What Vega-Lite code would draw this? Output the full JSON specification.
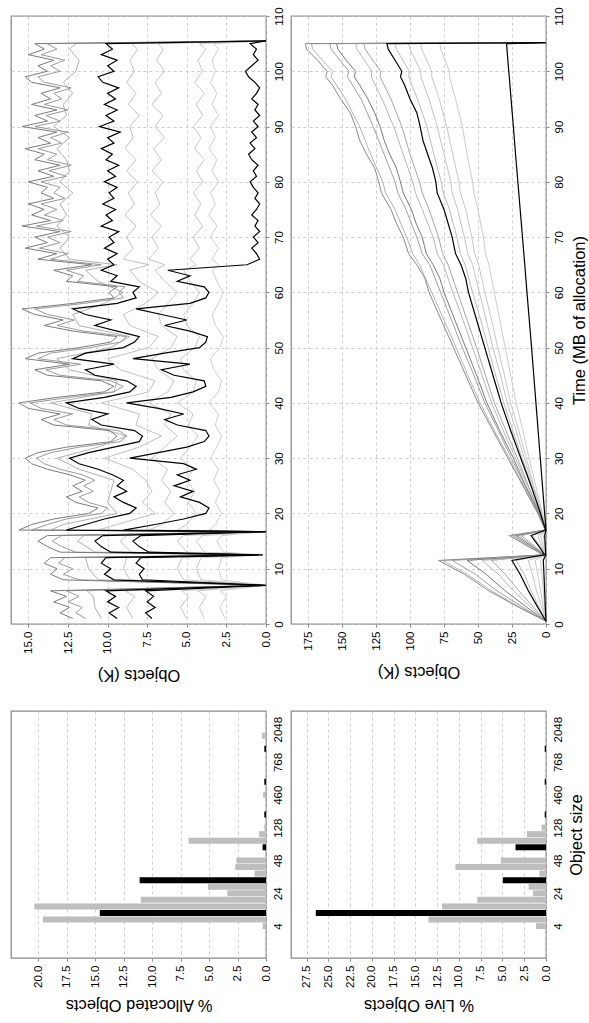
{
"$schema": "https://vega.github.io/schema/vega-lite/v6.json",
"padding": {"left": 10, "top": 6, "right": 2, "bottom": 2},
"background": "white",
"columns": 2,
"bounds": "flush",
"spacing": {"row": 87, "column": 25},
"config": {
 "font": "Liberation Sans",
 "view": {"stroke": "#8c8c8c", "strokeWidth": 1.3},
 "axis": {"labelFont": "Liberation Sans", "labelFontSize": 11.5, "labelColor": "#000", "titleFont": "Liberation Sans", "titleFontSize": 16.5, "titleFontWeight": "normal", "titleColor": "#000", "domain": false, "tickColor": "#888888", "tickSize": 3, "gridColor": "#c4c4c4", "gridDash": [3, 3], "gridWidth": 0.8}
},
"concat": [
  {"width": 255, "height": 608,
   "encoding": {
    "x": {"field": "v", "type": "quantitative", "scale": {"domain": [0, 16.1], "reverse": true, "nice": false, "zero": false}, "axis": {"orient": "bottom", "values": [0, 2.5, 5, 7.5, 10, 12.5, 15], "format": ".1f", "labelAngle": 270, "labelAlign": "right", "labelBaseline": "middle", "labelPadding": 4, "title": "Objects (K)", "titleAngle": 180, "titleBaseline": "bottom", "titlePadding": 13}},
    "y": {"field": "t", "type": "quantitative", "scale": {"domain": [0, 110], "nice": false, "zero": false}, "axis": {"orient": "right", "values": [0, 10, 20, 30, 40, 50, 60, 70, 80, 90, 100, 110], "labelAngle": 270, "labelAlign": "center", "labelBaseline": "top", "labelPadding": 4, "title": null}},
    "order": {"field": "t", "type": "quantitative"}
   },
   "layer": [
    {"data": {"name": "l1I"}, "mark": {"type": "line", "color": "#cfcfcf", "strokeWidth": 1}},
    {"data": {"name": "l1H"}, "mark": {"type": "line", "color": "#c8c8c8", "strokeWidth": 1}},
    {"data": {"name": "l1G"}, "mark": {"type": "line", "color": "#c6c6c6", "strokeWidth": 1}},
    {"data": {"name": "l1F"}, "mark": {"type": "line", "color": "#c2c2c2", "strokeWidth": 1}},
    {"data": {"name": "l1C"}, "mark": {"type": "line", "color": "#b0b0b0", "strokeWidth": 1}},
    {"data": {"name": "l1B"}, "mark": {"type": "line", "color": "#9a9a9a", "strokeWidth": 1}},
    {"data": {"name": "l1A"}, "mark": {"type": "line", "color": "#7c7c7c", "strokeWidth": 1}},
    {"data": {"name": "l1E"}, "mark": {"type": "line", "color": "#000000", "strokeWidth": 1.2}},
    {"data": {"name": "l1D"}, "mark": {"type": "line", "color": "#000000", "strokeWidth": 1.2}}
   ]},
  {"width": 255, "height": 608,
   "encoding": {
    "x": {"field": "v", "type": "quantitative", "scale": {"domain": [0, 187.5], "reverse": true, "nice": false, "zero": false}, "axis": {"orient": "bottom", "values": [0, 25, 50, 75, 100, 125, 150, 175], "labelAngle": 270, "labelAlign": "right", "labelBaseline": "middle", "labelPadding": 4, "title": "Objects (K)", "titleAngle": 180, "titleBaseline": "bottom", "titlePadding": 13}},
    "y": {"field": "t", "type": "quantitative", "scale": {"domain": [0, 110], "nice": false, "zero": false}, "axis": {"orient": "right", "values": [0, 10, 20, 30, 40, 50, 60, 70, 80, 90, 100, 110], "labelAngle": 270, "labelAlign": "center", "labelBaseline": "top", "labelPadding": 4, "title": "Time (MB of allocation)", "titleAngle": 270, "titleBaseline": "top", "titlePadding": 7}},
    "order": {"field": "t", "type": "quantitative"}
   },
   "layer": [
    {"data": {"name": "l2j"}, "mark": {"type": "line", "color": "#cccccc", "strokeWidth": 1}},
    {"data": {"name": "l2i"}, "mark": {"type": "line", "color": "#c8c8c8", "strokeWidth": 1}},
    {"data": {"name": "l2h"}, "mark": {"type": "line", "color": "#c4c4c4", "strokeWidth": 1}},
    {"data": {"name": "l2g"}, "mark": {"type": "line", "color": "#bdbdbd", "strokeWidth": 1}},
    {"data": {"name": "l2m"}, "mark": {"type": "line", "color": "#b8b8b8", "strokeWidth": 1}},
    {"data": {"name": "l2f"}, "mark": {"type": "line", "color": "#a6a6a6", "strokeWidth": 1}},
    {"data": {"name": "l2d"}, "mark": {"type": "line", "color": "#a0a0a0", "strokeWidth": 1}},
    {"data": {"name": "l2e"}, "mark": {"type": "line", "color": "#7a7a7a", "strokeWidth": 1}},
    {"data": {"name": "l2c"}, "mark": {"type": "line", "color": "#b5b5b5", "strokeWidth": 1}},
    {"data": {"name": "l2b"}, "mark": {"type": "line", "color": "#8a8a8a", "strokeWidth": 1}},
    {"data": {"name": "l2a"}, "mark": {"type": "line", "color": "#000000", "strokeWidth": 1.2}},
    {"data": {"name": "l2k"}, "mark": {"type": "line", "color": "#000000", "strokeWidth": 1.2}}
   ]},
  {"width": 255, "height": 247,
   "data": {"name": "alloc"},
   "mark": {"type": "bar", "orient": "horizontal", "height": 6},
   "encoding": {
    "y": {"field": "slot", "type": "quantitative", "scale": {"domain": [-4.1, 32], "nice": false, "zero": false}, "axis": {"orient": "right", "values": [0, 5, 10, 15, 20, 25, 30], "labelExpr": "datum.value==0?'4':datum.value==5?'24':datum.value==10?'48':datum.value==15?'128':datum.value==20?'460':datum.value==25?'768':'2048'", "labelAngle": 270, "labelAlign": "center", "labelBaseline": "top", "labelPadding": 6, "ticks": false, "grid": false, "title": null}},
    "x": {"field": "pct", "type": "quantitative", "stack": null, "scale": {"domain": [0, 22.4], "reverse": true, "nice": false}, "axis": {"orient": "bottom", "values": [0, 2.5, 5, 7.5, 10, 12.5, 15, 17.5, 20], "format": ".1f", "labelAngle": 270, "labelAlign": "right", "labelBaseline": "middle", "labelPadding": 4, "title": "% Allocated Objects", "titleAngle": 180, "titleBaseline": "bottom", "titlePadding": 9}},
    "color": {"field": "k", "type": "nominal", "scale": {"domain": ["g", "k"], "range": ["#bebebe", "#000000"]}, "legend": null}
   }},
  {"width": 255, "height": 247,
   "data": {"name": "live"},
   "mark": {"type": "bar", "orient": "horizontal", "height": 6},
   "encoding": {
    "y": {"field": "slot", "type": "quantitative", "scale": {"domain": [-4.1, 32], "nice": false, "zero": false}, "axis": {"orient": "right", "values": [0, 5, 10, 15, 20, 25, 30], "labelExpr": "datum.value==0?'4':datum.value==5?'24':datum.value==10?'48':datum.value==15?'128':datum.value==20?'460':datum.value==25?'768':'2048'", "labelAngle": 270, "labelAlign": "center", "labelBaseline": "top", "labelPadding": 6, "ticks": false, "grid": false, "title": "Object size", "titleAngle": 270, "titleBaseline": "top", "titlePadding": 5}},
    "x": {"field": "pct", "type": "quantitative", "stack": null, "scale": {"domain": [0, 29.3], "reverse": true, "nice": false}, "axis": {"orient": "bottom", "values": [0, 2.5, 5, 7.5, 10, 12.5, 15, 17.5, 20, 22.5, 25, 27.5], "format": ".1f", "labelAngle": 270, "labelAlign": "right", "labelBaseline": "middle", "labelPadding": 4, "title": "% Live Objects", "titleAngle": 180, "titleBaseline": "bottom", "titlePadding": 9}},
    "color": {"field": "k", "type": "nominal", "scale": {"domain": ["g", "k"], "range": ["#bebebe", "#000000"]}, "legend": null}
   }}
],
"datasets": {
 "alloc": [{"slot":0,"pct":0.3,"k":"g"},{"slot":1,"pct":19.6,"k":"g"},{"slot":2,"pct":14.6,"k":"k"},{"slot":3,"pct":20.35,"k":"g"},{"slot":4,"pct":11.0,"k":"g"},{"slot":5,"pct":3.4,"k":"g"},{"slot":6,"pct":5.1,"k":"g"},{"slot":7,"pct":11.1,"k":"k"},{"slot":8,"pct":1.0,"k":"g"},{"slot":9,"pct":2.7,"k":"g"},{"slot":10,"pct":2.6,"k":"g"},{"slot":12,"pct":0.3,"k":"k"},{"slot":13,"pct":6.8,"k":"g"},{"slot":14,"pct":0.6,"k":"g"},{"slot":15,"pct":0.15,"k":"g"},{"slot":17,"pct":0.15,"k":"k"},{"slot":20,"pct":0.25,"k":"g"},{"slot":22,"pct":0.15,"k":"k"},{"slot":27,"pct":0.15,"k":"k"},{"slot":29,"pct":0.35,"k":"g"}],
 "live": [{"slot":0,"pct":1.15,"k":"g"},{"slot":1,"pct":13.5,"k":"g"},{"slot":2,"pct":26.45,"k":"k"},{"slot":3,"pct":11.95,"k":"g"},{"slot":4,"pct":7.9,"k":"g"},{"slot":5,"pct":1.5,"k":"g"},{"slot":6,"pct":2.0,"k":"g"},{"slot":7,"pct":4.96,"k":"k"},{"slot":8,"pct":0.76,"k":"g"},{"slot":9,"pct":10.4,"k":"g"},{"slot":10,"pct":5.2,"k":"g"},{"slot":12,"pct":3.5,"k":"k"},{"slot":13,"pct":7.9,"k":"g"},{"slot":14,"pct":2.2,"k":"g"},{"slot":15,"pct":0.5,"k":"g"},{"slot":17,"pct":0.15,"k":"k"},{"slot":22,"pct":0.15,"k":"k"},{"slot":27,"pct":0.15,"k":"k"}],
 "l1I": [{"t":1,"v":2.6},{"t":3,"v":2.9},{"t":5,"v":2.5},{"t":6,"v":2.9},{"t":7,"v":0},{"t":8,"v":2.8},{"t":10,"v":3.0},{"t":12,"v":2.8},{"t":12.5,"v":0.2},{"t":13,"v":2.7},{"t":15,"v":3.1},{"t":16,"v":2.8},{"t":16.7,"v":0},{"t":17,"v":3.6},{"t":18,"v":3.2},{"t":20,"v":2.8},{"t":22,"v":3.2},{"t":24,"v":2.9},{"t":26,"v":3.3},{"t":28,"v":3.0},{"t":30,"v":3.5},{"t":32,"v":3.1},{"t":34,"v":2.8},{"t":36,"v":3.2},{"t":38,"v":3.0},{"t":40,"v":3.6},{"t":42,"v":3.0},{"t":44,"v":2.8},{"t":46,"v":3.3},{"t":48,"v":3.5},{"t":50,"v":2.9},{"t":52,"v":2.7},{"t":54,"v":3.2},{"t":56,"v":3.4},{"t":58,"v":3.0},{"t":60,"v":2.7},{"t":62,"v":3.1},{"t":64,"v":3.4},{"t":65,"v":3.0},{"t":66,"v":3.4},{"t":68,"v":3.0},{"t":70,"v":3.5},{"t":72,"v":3.1},{"t":74,"v":3.6},{"t":76,"v":3.2},{"t":78,"v":3.5},{"t":80,"v":3.0},{"t":82,"v":3.4},{"t":84,"v":3.1},{"t":86,"v":3.6},{"t":88,"v":3.2},{"t":90,"v":3.5},{"t":92,"v":3.0},{"t":94,"v":3.4},{"t":96,"v":3.1},{"t":98,"v":3.5},{"t":100,"v":3.2},{"t":102,"v":3.4},{"t":104,"v":3.0},{"t":105,"v":3.3},{"t":105.5,"v":0}],
 "l1H": [{"t":1,"v":3.9},{"t":3,"v":4.2},{"t":5,"v":3.8},{"t":6,"v":4.3},{"t":7,"v":0},{"t":8,"v":4.1},{"t":10,"v":4.4},{"t":12,"v":4.1},{"t":12.5,"v":0.3},{"t":13,"v":3.9},{"t":15,"v":4.4},{"t":16,"v":4.0},{"t":16.7,"v":0},{"t":17,"v":5.6},{"t":18,"v":5.0},{"t":20,"v":4.4},{"t":22,"v":4.9},{"t":24,"v":4.5},{"t":26,"v":5.0},{"t":28,"v":4.6},{"t":30,"v":5.4},{"t":32,"v":4.8},{"t":34,"v":4.3},{"t":36,"v":4.9},{"t":38,"v":4.6},{"t":40,"v":5.6},{"t":42,"v":4.6},{"t":44,"v":4.4},{"t":46,"v":5.2},{"t":48,"v":5.4},{"t":50,"v":4.5},{"t":52,"v":4.2},{"t":54,"v":5.0},{"t":56,"v":5.2},{"t":58,"v":4.6},{"t":60,"v":4.2},{"t":62,"v":4.8},{"t":64,"v":5.2},{"t":65,"v":4.4},{"t":66,"v":4.8},{"t":68,"v":4.2},{"t":70,"v":4.6},{"t":72,"v":4.0},{"t":74,"v":4.5},{"t":76,"v":4.1},{"t":78,"v":4.6},{"t":80,"v":4.0},{"t":82,"v":4.4},{"t":84,"v":3.9},{"t":86,"v":4.5},{"t":88,"v":4.1},{"t":90,"v":4.6},{"t":92,"v":4.0},{"t":94,"v":4.4},{"t":96,"v":3.9},{"t":98,"v":4.5},{"t":100,"v":4.0},{"t":102,"v":4.3},{"t":104,"v":3.8},{"t":105,"v":4.2},{"t":105.5,"v":0}],
 "l1G": [{"t":1,"v":5.0},{"t":3,"v":5.4},{"t":5,"v":4.9},{"t":6,"v":5.3},{"t":7,"v":0.1},{"t":8,"v":5.2},{"t":10,"v":5.6},{"t":12,"v":5.3},{"t":12.5,"v":0.4},{"t":13,"v":5.0},{"t":15,"v":5.6},{"t":16,"v":5.2},{"t":16.7,"v":0},{"t":17,"v":7.4},{"t":18,"v":6.6},{"t":20,"v":5.8},{"t":22,"v":6.4},{"t":24,"v":6.0},{"t":26,"v":6.6},{"t":28,"v":6.2},{"t":30,"v":7.2},{"t":32,"v":6.4},{"t":34,"v":5.6},{"t":36,"v":6.4},{"t":38,"v":6.0},{"t":40,"v":7.4},{"t":42,"v":6.2},{"t":44,"v":5.8},{"t":46,"v":6.8},{"t":48,"v":7.2},{"t":50,"v":6.0},{"t":52,"v":5.6},{"t":54,"v":6.6},{"t":56,"v":6.8},{"t":58,"v":6.2},{"t":60,"v":5.6},{"t":62,"v":6.4},{"t":64,"v":7.0},{"t":65,"v":6.4},{"t":66,"v":7.4},{"t":68,"v":6.8},{"t":70,"v":7.2},{"t":72,"v":6.6},{"t":74,"v":7.3},{"t":76,"v":6.7},{"t":78,"v":7.0},{"t":80,"v":6.5},{"t":82,"v":7.2},{"t":84,"v":6.6},{"t":86,"v":7.1},{"t":88,"v":6.4},{"t":90,"v":7.0},{"t":92,"v":6.5},{"t":94,"v":7.2},{"t":96,"v":6.6},{"t":98,"v":7.0},{"t":100,"v":6.4},{"t":102,"v":6.9},{"t":104,"v":6.5},{"t":105,"v":6.8},{"t":105.5,"v":0}],
 "l1F": [{"t":1,"v":8.4},{"t":3,"v":8.8},{"t":5,"v":8.3},{"t":6,"v":8.9},{"t":7,"v":0.1},{"t":8,"v":8.6},{"t":10,"v":9.0},{"t":12,"v":8.8},{"t":12.5,"v":0.6},{"t":13,"v":8.5},{"t":15,"v":9.2},{"t":16,"v":8.8},{"t":16.7,"v":0},{"t":17,"v":10.6},{"t":18,"v":9.4},{"t":20,"v":7.0},{"t":22,"v":7.8},{"t":24,"v":7.2},{"t":26,"v":7.6},{"t":28,"v":8.4},{"t":30,"v":10.2},{"t":32,"v":8.0},{"t":34,"v":6.6},{"t":36,"v":8.2},{"t":38,"v":8.0},{"t":40,"v":10.4},{"t":42,"v":7.4},{"t":44,"v":7.0},{"t":46,"v":9.2},{"t":48,"v":10.0},{"t":50,"v":7.4},{"t":52,"v":6.8},{"t":54,"v":8.6},{"t":56,"v":9.0},{"t":58,"v":7.6},{"t":60,"v":6.8},{"t":62,"v":8.0},{"t":64,"v":8.6},{"t":65,"v":7.4},{"t":66,"v":9.0},{"t":68,"v":8.4},{"t":70,"v":8.8},{"t":72,"v":8.2},{"t":74,"v":8.9},{"t":76,"v":8.3},{"t":78,"v":8.7},{"t":80,"v":8.1},{"t":82,"v":8.8},{"t":84,"v":8.2},{"t":86,"v":8.9},{"t":88,"v":8.4},{"t":90,"v":8.6},{"t":92,"v":8.0},{"t":94,"v":8.7},{"t":96,"v":8.2},{"t":98,"v":8.8},{"t":100,"v":8.3},{"t":102,"v":8.6},{"t":104,"v":8.1},{"t":105,"v":8.5},{"t":105.5,"v":0}],
 "l1C": [{"t":1,"v":10.4},{"t":3,"v":10.8},{"t":5,"v":10.9},{"t":6,"v":11.3},{"t":7,"v":0.2},{"t":8,"v":10.6},{"t":10,"v":11.2},{"t":12,"v":11.4},{"t":12.5,"v":0.8},{"t":13,"v":10.8},{"t":15,"v":11.9},{"t":16,"v":11.5},{"t":16.7,"v":0.1},{"t":17,"v":13.6},{"t":18,"v":12.8},{"t":20,"v":9.4},{"t":22,"v":10.0},{"t":24,"v":9.8},{"t":26,"v":9.6},{"t":28,"v":11.8},{"t":30,"v":13.2},{"t":32,"v":10.6},{"t":34,"v":8.8},{"t":36,"v":11.2},{"t":38,"v":11.0},{"t":40,"v":13.6},{"t":42,"v":9.6},{"t":44,"v":9.4},{"t":46,"v":12.4},{"t":48,"v":13.2},{"t":50,"v":9.8},{"t":52,"v":8.6},{"t":54,"v":11.8},{"t":56,"v":12.2},{"t":58,"v":10.2},{"t":60,"v":9.0},{"t":62,"v":10.6},{"t":64,"v":11.4},{"t":65,"v":9.4},{"t":66,"v":12.4},{"t":68,"v":13.0},{"t":70,"v":12.4},{"t":72,"v":13.2},{"t":74,"v":12.6},{"t":76,"v":13.0},{"t":78,"v":12.2},{"t":80,"v":13.0},{"t":82,"v":12.4},{"t":84,"v":12.6},{"t":86,"v":13.2},{"t":88,"v":12.4},{"t":90,"v":13.4},{"t":92,"v":12.6},{"t":94,"v":12.8},{"t":96,"v":12.2},{"t":98,"v":12.8},{"t":100,"v":12.0},{"t":102,"v":11.8},{"t":104,"v":12.4},{"t":105,"v":12.0},{"t":105.5,"v":0}],
 "l1A": [{"t":1,"v":12.2},{"t":2,"v":13.0},{"t":3,"v":12.4},{"t":4,"v":13.4},{"t":5,"v":12.6},{"t":6,"v":13.6},{"t":7,"v":0.2},{"t":8,"v":12.8},{"t":9,"v":13.6},{"t":10,"v":13.2},{"t":11,"v":14.0},{"t":12,"v":13.6},{"t":12.5,"v":0.6},{"t":13,"v":13.0},{"t":14,"v":13.8},{"t":15,"v":14.4},{"t":16,"v":13.8},{"t":16.7,"v":0.1},{"t":17,"v":15.6},{"t":18,"v":14.8},{"t":19,"v":13.4},{"t":20,"v":11.2},{"t":21,"v":10.6},{"t":22,"v":12.0},{"t":23,"v":12.6},{"t":24,"v":11.6},{"t":25,"v":12.2},{"t":26,"v":11.4},{"t":27,"v":12.4},{"t":28,"v":13.8},{"t":29,"v":14.8},{"t":30,"v":15.2},{"t":31,"v":14.4},{"t":32,"v":12.6},{"t":33,"v":9.8},{"t":34,"v":9.4},{"t":35,"v":9.9},{"t":36,"v":13.4},{"t":37,"v":14.2},{"t":38,"v":13.0},{"t":39,"v":15.0},{"t":40,"v":15.6},{"t":41,"v":13.2},{"t":42,"v":10.2},{"t":43,"v":9.6},{"t":44,"v":10.4},{"t":45,"v":13.8},{"t":46,"v":14.6},{"t":47,"v":12.4},{"t":48,"v":15.2},{"t":49,"v":14.4},{"t":50,"v":11.8},{"t":51,"v":9.8},{"t":52,"v":9.4},{"t":53,"v":12.2},{"t":54,"v":14.0},{"t":55,"v":12.8},{"t":56,"v":14.6},{"t":57,"v":15.4},{"t":58,"v":12.2},{"t":59,"v":9.6},{"t":60,"v":9.9},{"t":61,"v":9.4},{"t":62,"v":12.6},{"t":63,"v":12.2},{"t":64,"v":13.4},{"t":65,"v":11.0},{"t":66,"v":14.4},{"t":67,"v":13.2},{"t":68,"v":15.2},{"t":69,"v":13.8},{"t":70,"v":14.6},{"t":71,"v":13.0},{"t":72,"v":15.4},{"t":73,"v":13.6},{"t":74,"v":14.8},{"t":75,"v":14.0},{"t":76,"v":15.0},{"t":77,"v":13.4},{"t":78,"v":14.2},{"t":79,"v":13.8},{"t":80,"v":15.0},{"t":81,"v":13.4},{"t":82,"v":14.4},{"t":83,"v":13.0},{"t":84,"v":14.6},{"t":85,"v":14.0},{"t":86,"v":15.2},{"t":87,"v":13.6},{"t":88,"v":14.4},{"t":89,"v":13.2},{"t":90,"v":15.4},{"t":91,"v":13.8},{"t":92,"v":14.6},{"t":93,"v":13.2},{"t":94,"v":14.8},{"t":95,"v":13.6},{"t":96,"v":14.2},{"t":97,"v":13.0},{"t":98,"v":14.8},{"t":99,"v":15.2},{"t":100,"v":13.8},{"t":101,"v":14.4},{"t":102,"v":13.4},{"t":103,"v":15.0},{"t":104,"v":14.0},{"t":105,"v":14.6},{"t":105.5,"v":0}],
 "l1B": [{"t":1,"v":11.4},{"t":2,"v":12.0},{"t":3,"v":11.6},{"t":4,"v":12.5},{"t":5,"v":11.8},{"t":6,"v":12.6},{"t":7,"v":0.3},{"t":8,"v":11.8},{"t":9,"v":12.8},{"t":10,"v":12.2},{"t":11,"v":13.1},{"t":12,"v":12.7},{"t":12.5,"v":0.9},{"t":13,"v":12.0},{"t":14,"v":12.9},{"t":15,"v":13.5},{"t":16,"v":12.9},{"t":16.7,"v":0.2},{"t":17,"v":14.8},{"t":18,"v":13.8},{"t":19,"v":12.6},{"t":20,"v":10.4},{"t":21,"v":10.0},{"t":22,"v":11.2},{"t":23,"v":11.8},{"t":24,"v":10.9},{"t":25,"v":11.5},{"t":26,"v":10.8},{"t":27,"v":11.6},{"t":28,"v":13.0},{"t":29,"v":14.0},{"t":30,"v":14.5},{"t":31,"v":13.6},{"t":32,"v":11.8},{"t":33,"v":9.2},{"t":34,"v":8.8},{"t":35,"v":9.3},{"t":36,"v":12.6},{"t":37,"v":13.4},{"t":38,"v":12.2},{"t":39,"v":14.2},{"t":40,"v":14.9},{"t":41,"v":12.4},{"t":42,"v":9.6},{"t":43,"v":9.0},{"t":44,"v":9.8},{"t":45,"v":13.0},{"t":46,"v":13.9},{"t":47,"v":11.7},{"t":48,"v":14.4},{"t":49,"v":13.6},{"t":50,"v":11.1},{"t":51,"v":9.2},{"t":52,"v":8.8},{"t":53,"v":11.5},{"t":54,"v":13.2},{"t":55,"v":12.1},{"t":56,"v":13.8},{"t":57,"v":14.6},{"t":58,"v":11.5},{"t":59,"v":9.0},{"t":60,"v":9.3},{"t":61,"v":8.9},{"t":62,"v":11.9},{"t":63,"v":11.5},{"t":64,"v":12.6},{"t":65,"v":10.4},{"t":66,"v":13.6},{"t":67,"v":12.5},{"t":68,"v":14.3},{"t":69,"v":13.0},{"t":70,"v":13.8},{"t":71,"v":12.3},{"t":72,"v":14.5},{"t":73,"v":12.8},{"t":74,"v":14.0},{"t":75,"v":13.2},{"t":76,"v":14.2},{"t":77,"v":12.7},{"t":78,"v":13.4},{"t":79,"v":13.0},{"t":80,"v":14.2},{"t":81,"v":12.6},{"t":82,"v":13.7},{"t":83,"v":12.3},{"t":84,"v":13.8},{"t":85,"v":13.2},{"t":86,"v":14.4},{"t":87,"v":12.9},{"t":88,"v":13.6},{"t":89,"v":12.5},{"t":90,"v":14.6},{"t":91,"v":13.0},{"t":92,"v":13.9},{"t":93,"v":12.5},{"t":94,"v":14.0},{"t":95,"v":12.9},{"t":96,"v":13.4},{"t":97,"v":12.3},{"t":98,"v":14.0},{"t":99,"v":14.4},{"t":100,"v":13.0},{"t":101,"v":13.6},{"t":102,"v":12.7},{"t":103,"v":14.2},{"t":104,"v":13.2},{"t":105,"v":13.8},{"t":105.5,"v":0}],
 "l1D": [{"t":1,"v":9.4},{"t":2,"v":9.9},{"t":3,"v":9.3},{"t":4,"v":10.0},{"t":5,"v":9.5},{"t":6,"v":10.1},{"t":7,"v":0.1},{"t":8,"v":9.6},{"t":9,"v":10.2},{"t":10,"v":9.8},{"t":11,"v":10.4},{"t":12,"v":10.1},{"t":12.5,"v":0.5},{"t":13,"v":9.8},{"t":14,"v":10.4},{"t":15,"v":10.8},{"t":16,"v":10.3},{"t":16.7,"v":0},{"t":17,"v":12.6},{"t":18,"v":11.4},{"t":19,"v":10.2},{"t":20,"v":8.6},{"t":21,"v":8.2},{"t":22,"v":9.0},{"t":23,"v":9.6},{"t":24,"v":8.8},{"t":25,"v":9.4},{"t":26,"v":9.0},{"t":27,"v":9.7},{"t":28,"v":10.6},{"t":29,"v":11.8},{"t":30,"v":12.4},{"t":31,"v":11.2},{"t":32,"v":9.6},{"t":33,"v":8.0},{"t":34,"v":7.8},{"t":35,"v":8.3},{"t":36,"v":10.4},{"t":37,"v":11.0},{"t":38,"v":10.0},{"t":39,"v":11.8},{"t":40,"v":12.6},{"t":41,"v":10.2},{"t":42,"v":8.6},{"t":43,"v":8.2},{"t":44,"v":8.8},{"t":45,"v":10.8},{"t":46,"v":11.4},{"t":47,"v":9.6},{"t":48,"v":12.2},{"t":49,"v":11.4},{"t":50,"v":9.0},{"t":51,"v":8.3},{"t":52,"v":8.0},{"t":53,"v":9.4},{"t":54,"v":10.8},{"t":55,"v":9.8},{"t":56,"v":11.4},{"t":57,"v":12.2},{"t":58,"v":9.4},{"t":59,"v":8.2},{"t":60,"v":8.4},{"t":61,"v":8.0},{"t":62,"v":9.8},{"t":63,"v":9.4},{"t":64,"v":10.4},{"t":65,"v":9.6},{"t":66,"v":10.0},{"t":67,"v":9.4},{"t":68,"v":10.2},{"t":69,"v":9.6},{"t":70,"v":9.9},{"t":71,"v":9.3},{"t":72,"v":10.4},{"t":73,"v":9.7},{"t":74,"v":10.1},{"t":75,"v":9.5},{"t":76,"v":10.3},{"t":77,"v":9.6},{"t":78,"v":9.9},{"t":79,"v":9.4},{"t":80,"v":10.2},{"t":81,"v":9.5},{"t":82,"v":10.0},{"t":83,"v":9.3},{"t":84,"v":10.1},{"t":85,"v":9.7},{"t":86,"v":10.4},{"t":87,"v":9.6},{"t":88,"v":10.0},{"t":89,"v":9.2},{"t":90,"v":10.5},{"t":91,"v":9.6},{"t":92,"v":10.1},{"t":93,"v":9.4},{"t":94,"v":10.2},{"t":95,"v":9.5},{"t":96,"v":10.0},{"t":97,"v":9.3},{"t":98,"v":10.3},{"t":99,"v":10.6},{"t":100,"v":9.6},{"t":101,"v":10.0},{"t":102,"v":9.4},{"t":103,"v":10.4},{"t":104,"v":9.7},{"t":105,"v":10.1},{"t":105.5,"v":0}],
 "l1E": [{"t":1,"v":7.2},{"t":2,"v":7.6},{"t":3,"v":7.0},{"t":4,"v":7.5},{"t":5,"v":7.1},{"t":6,"v":7.6},{"t":7,"v":0},{"t":8,"v":7.8},{"t":9,"v":8.0},{"t":10,"v":7.7},{"t":11,"v":8.2},{"t":12,"v":7.9},{"t":12.5,"v":0.2},{"t":13,"v":7.4},{"t":14,"v":8.0},{"t":15,"v":8.4},{"t":16,"v":7.9},{"t":16.7,"v":0},{"t":17,"v":9.0},{"t":18,"v":7.0},{"t":19,"v":5.2},{"t":20,"v":3.8},{"t":21,"v":3.6},{"t":22,"v":4.2},{"t":23,"v":5.4},{"t":24,"v":4.6},{"t":25,"v":5.8},{"t":26,"v":4.8},{"t":27,"v":5.6},{"t":28,"v":4.4},{"t":29,"v":5.2},{"t":30,"v":8.6},{"t":31,"v":6.8},{"t":32,"v":5.0},{"t":33,"v":3.9},{"t":34,"v":3.6},{"t":35,"v":3.8},{"t":36,"v":5.6},{"t":37,"v":6.4},{"t":38,"v":5.2},{"t":39,"v":6.8},{"t":40,"v":8.8},{"t":41,"v":6.0},{"t":42,"v":4.6},{"t":43,"v":3.8},{"t":44,"v":3.9},{"t":45,"v":5.8},{"t":46,"v":6.6},{"t":47,"v":4.8},{"t":48,"v":8.4},{"t":49,"v":6.4},{"t":50,"v":4.2},{"t":51,"v":3.8},{"t":52,"v":3.7},{"t":53,"v":4.8},{"t":54,"v":6.4},{"t":55,"v":5.0},{"t":56,"v":6.6},{"t":57,"v":8.2},{"t":58,"v":4.8},{"t":59,"v":3.8},{"t":60,"v":3.6},{"t":61,"v":3.9},{"t":62,"v":5.6},{"t":63,"v":4.8},{"t":64,"v":6.2},{"t":65,"v":1.2},{"t":66,"v":0.4},{"t":67,"v":0.6},{"t":68,"v":0.9},{"t":69,"v":0.5},{"t":70,"v":0.8},{"t":71,"v":0.4},{"t":72,"v":0.7},{"t":73,"v":0.5},{"t":74,"v":0.9},{"t":75,"v":0.6},{"t":76,"v":0.4},{"t":77,"v":0.7},{"t":78,"v":0.5},{"t":79,"v":0.8},{"t":80,"v":1.0},{"t":81,"v":0.6},{"t":82,"v":0.8},{"t":83,"v":0.5},{"t":84,"v":0.9},{"t":85,"v":1.1},{"t":86,"v":0.7},{"t":87,"v":1.0},{"t":88,"v":0.6},{"t":89,"v":0.9},{"t":90,"v":0.5},{"t":91,"v":0.8},{"t":92,"v":0.4},{"t":93,"v":0.7},{"t":94,"v":0.5},{"t":95,"v":0.9},{"t":96,"v":0.6},{"t":97,"v":0.4},{"t":98,"v":0.7},{"t":99,"v":1.1},{"t":100,"v":1.3},{"t":101,"v":0.9},{"t":102,"v":0.5},{"t":103,"v":0.8},{"t":104,"v":0.6},{"t":105,"v":1.0},{"t":105.5,"v":0}],
 "l2b": [{"t":0.5,"v":0},{"t":3,"v":20},{"t":6,"v":42},{"t":9,"v":60},{"t":11.5,"v":79},{"t":12.5,"v":2},{"t":14,"v":13},{"t":16,"v":27},{"t":17,"v":0.5},{"t":20,"v":6},{"t":25,"v":17},{"t":30,"v":28},{"t":35,"v":39},{"t":40,"v":50},{"t":45,"v":59},{"t":50,"v":68},{"t":55,"v":77},{"t":60,"v":86},{"t":62.5,"v":89},{"t":65,"v":95},{"t":67,"v":101},{"t":70,"v":105},{"t":72.5,"v":110},{"t":75,"v":114},{"t":78,"v":121},{"t":80,"v":123},{"t":82.5,"v":126},{"t":85,"v":132},{"t":87.5,"v":137},{"t":90,"v":140},{"t":92.5,"v":144},{"t":95,"v":151},{"t":97.5,"v":157},{"t":99,"v":162},{"t":100,"v":161},{"t":102,"v":168},{"t":104,"v":176},{"t":105,"v":177},{"t":105.2,"v":0}],
 "l2c": [{"t":0.5,"v":0},{"t":3,"v":19},{"t":6,"v":40},{"t":9,"v":58},{"t":11.5,"v":76},{"t":12.5,"v":2},{"t":14,"v":12},{"t":16,"v":25},{"t":17,"v":0.5},{"t":20,"v":6},{"t":25,"v":16.5},{"t":30,"v":27},{"t":35,"v":38},{"t":40,"v":48.5},{"t":45,"v":57.5},{"t":50,"v":66},{"t":55,"v":75},{"t":60,"v":84},{"t":65,"v":93},{"t":67,"v":98},{"t":70,"v":102.5},{"t":75,"v":111},{"t":78,"v":118},{"t":80,"v":120},{"t":85,"v":129},{"t":90,"v":137},{"t":95,"v":147.5},{"t":99,"v":158},{"t":100,"v":157},{"t":104,"v":171.5},{"t":105,"v":172.5},{"t":105.2,"v":0}],
 "l2d": [{"t":0.5,"v":0},{"t":3,"v":17},{"t":6,"v":36},{"t":9,"v":52},{"t":11.5,"v":69},{"t":12.5,"v":2},{"t":14,"v":11},{"t":16,"v":24},{"t":17,"v":0.5},{"t":20,"v":5.5},{"t":25,"v":15.5},{"t":30,"v":25.5},{"t":35,"v":35},{"t":40,"v":45},{"t":45,"v":53},{"t":50,"v":61.5},{"t":55,"v":69.5},{"t":60,"v":77.5},{"t":65,"v":85.5},{"t":67,"v":91},{"t":70,"v":95},{"t":75,"v":103},{"t":78,"v":109},{"t":80,"v":111},{"t":85,"v":119},{"t":90,"v":127},{"t":95,"v":136},{"t":99,"v":146},{"t":100,"v":145},{"t":104,"v":158},{"t":105,"v":159},{"t":105.2,"v":0}],
 "l2e": [{"t":0.5,"v":0},{"t":3,"v":14},{"t":6,"v":30},{"t":9,"v":44},{"t":11.5,"v":58},{"t":12.5,"v":1.5},{"t":14,"v":10},{"t":16,"v":22},{"t":17,"v":0.5},{"t":20,"v":5},{"t":25,"v":15},{"t":30,"v":24},{"t":35,"v":34},{"t":40,"v":43.5},{"t":45,"v":51},{"t":50,"v":59},{"t":55,"v":67},{"t":60,"v":75},{"t":62.5,"v":78},{"t":65,"v":83},{"t":67,"v":88},{"t":70,"v":91},{"t":72.5,"v":95.5},{"t":75,"v":99},{"t":78,"v":105},{"t":80,"v":107},{"t":82.5,"v":110},{"t":85,"v":115},{"t":87.5,"v":119},{"t":90,"v":122},{"t":92.5,"v":126},{"t":95,"v":131},{"t":97.5,"v":137},{"t":99,"v":141},{"t":100,"v":140},{"t":102,"v":147},{"t":104,"v":153},{"t":105,"v":154},{"t":105.2,"v":0}],
 "l2m": [{"t":0.5,"v":0},{"t":3,"v":11},{"t":6,"v":24},{"t":9,"v":35},{"t":11.5,"v":47},{"t":12.5,"v":1.2},{"t":14,"v":9},{"t":16,"v":20},{"t":17,"v":0.4},{"t":20,"v":4.8},{"t":25,"v":13.5},{"t":30,"v":22.5},{"t":35,"v":31.5},{"t":40,"v":40},{"t":45,"v":47},{"t":50,"v":54},{"t":55,"v":61},{"t":60,"v":68.5},{"t":65,"v":75.5},{"t":67,"v":80},{"t":70,"v":83},{"t":75,"v":91},{"t":78,"v":96},{"t":80,"v":98},{"t":85,"v":105},{"t":90,"v":112},{"t":95,"v":120.5},{"t":99,"v":128.5},{"t":100,"v":128},{"t":104,"v":139},{"t":105,"v":140},{"t":105.2,"v":0}],
 "l2f": [{"t":0.5,"v":0},{"t":3,"v":9},{"t":6,"v":20},{"t":9,"v":30},{"t":11.5,"v":40},{"t":12.5,"v":1},{"t":14,"v":8},{"t":16,"v":18},{"t":17,"v":0.5},{"t":20,"v":4.5},{"t":25,"v":13},{"t":30,"v":21},{"t":35,"v":29.5},{"t":40,"v":38},{"t":45,"v":44.5},{"t":50,"v":51},{"t":55,"v":58},{"t":60,"v":65},{"t":65,"v":72},{"t":67,"v":76},{"t":70,"v":79},{"t":75,"v":86},{"t":78,"v":91},{"t":80,"v":93},{"t":85,"v":100},{"t":90,"v":106},{"t":95,"v":114},{"t":99,"v":122},{"t":100,"v":121.5},{"t":104,"v":133},{"t":105,"v":134},{"t":105.2,"v":0}],
 "l2g": [{"t":0.5,"v":0},{"t":3,"v":5},{"t":6,"v":11},{"t":9,"v":16},{"t":11.5,"v":22},{"t":12.5,"v":1},{"t":14,"v":4},{"t":16,"v":10},{"t":17,"v":0.3},{"t":20,"v":3.5},{"t":25,"v":10.5},{"t":30,"v":17.5},{"t":35,"v":24.5},{"t":40,"v":31},{"t":45,"v":37},{"t":50,"v":42.5},{"t":55,"v":48},{"t":60,"v":54},{"t":65,"v":59.5},{"t":67,"v":63},{"t":70,"v":65.5},{"t":75,"v":71},{"t":78,"v":75.5},{"t":80,"v":77},{"t":85,"v":82.5},{"t":90,"v":87.5},{"t":95,"v":94.5},{"t":99,"v":101},{"t":100,"v":100.5},{"t":104,"v":110},{"t":105,"v":111},{"t":105.2,"v":0}],
 "l2h": [{"t":0.5,"v":0},{"t":3,"v":3},{"t":6,"v":7},{"t":9,"v":10},{"t":11.5,"v":13},{"t":12.5,"v":0.5},{"t":14,"v":3},{"t":16,"v":6},{"t":17,"v":0.2},{"t":20,"v":3.5},{"t":25,"v":9.5},{"t":30,"v":16},{"t":35,"v":22},{"t":40,"v":28.5},{"t":45,"v":33.5},{"t":50,"v":39},{"t":55,"v":44},{"t":60,"v":49},{"t":65,"v":54},{"t":67,"v":57.5},{"t":70,"v":60},{"t":75,"v":65},{"t":78,"v":69},{"t":80,"v":70},{"t":85,"v":75},{"t":90,"v":80},{"t":95,"v":86},{"t":99,"v":92},{"t":100,"v":92},{"t":104,"v":100},{"t":105,"v":101},{"t":105.2,"v":0}],
 "l2i": [{"t":0.5,"v":0},{"t":3,"v":2},{"t":6,"v":4},{"t":9,"v":6},{"t":11.5,"v":8},{"t":12.5,"v":0.5},{"t":14,"v":2},{"t":16,"v":4},{"t":17,"v":0.2},{"t":20,"v":3},{"t":25,"v":9},{"t":30,"v":14.5},{"t":35,"v":20},{"t":40,"v":26},{"t":45,"v":30.5},{"t":50,"v":35.5},{"t":55,"v":40},{"t":60,"v":45},{"t":65,"v":49.5},{"t":67,"v":52.5},{"t":70,"v":54.5},{"t":75,"v":59},{"t":78,"v":63},{"t":80,"v":64},{"t":85,"v":68.5},{"t":90,"v":73},{"t":95,"v":78.5},{"t":99,"v":84},{"t":100,"v":84},{"t":104,"v":91.5},{"t":105,"v":92},{"t":105.2,"v":0}],
 "l2j": [{"t":0.5,"v":0},{"t":3,"v":1},{"t":6,"v":2},{"t":9,"v":3},{"t":11.5,"v":4},{"t":12.5,"v":0.3},{"t":14,"v":1},{"t":16,"v":2},{"t":17,"v":0.1},{"t":20,"v":2.5},{"t":25,"v":7.5},{"t":30,"v":12.5},{"t":35,"v":17},{"t":40,"v":22},{"t":45,"v":26},{"t":50,"v":30},{"t":55,"v":34},{"t":60,"v":38},{"t":65,"v":42},{"t":67,"v":44.5},{"t":70,"v":46},{"t":75,"v":50},{"t":78,"v":53},{"t":80,"v":54},{"t":85,"v":58},{"t":90,"v":61.5},{"t":95,"v":66.5},{"t":99,"v":71},{"t":100,"v":71},{"t":104,"v":77.5},{"t":105,"v":78},{"t":105.2,"v":0}],
 "l2a": [{"t":0.5,"v":0},{"t":3,"v":6},{"t":6,"v":13},{"t":9,"v":19},{"t":11.5,"v":25},{"t":12.5,"v":1},{"t":14,"v":5},{"t":16,"v":11},{"t":17,"v":0.3},{"t":20,"v":4},{"t":25,"v":11},{"t":30,"v":18.5},{"t":35,"v":26},{"t":40,"v":33},{"t":45,"v":39},{"t":50,"v":45},{"t":55,"v":51},{"t":60,"v":57},{"t":62.5,"v":59},{"t":65,"v":62.5},{"t":67,"v":66.5},{"t":70,"v":69},{"t":72.5,"v":72},{"t":75,"v":75},{"t":78,"v":80},{"t":80,"v":81},{"t":82.5,"v":83.5},{"t":85,"v":87},{"t":87.5,"v":90.5},{"t":90,"v":92.5},{"t":92.5,"v":95},{"t":95,"v":100},{"t":97.5,"v":104},{"t":99,"v":107},{"t":100,"v":106},{"t":102,"v":111},{"t":104,"v":116},{"t":105,"v":117},{"t":105.2,"v":0}],
 "l2k": [{"t":0.5,"v":0},{"t":3,"v":0.5},{"t":6,"v":1},{"t":9,"v":1.5},{"t":11.5,"v":2},{"t":12.5,"v":0.2},{"t":14,"v":0.5},{"t":16,"v":1},{"t":17,"v":0},{"t":20,"v":1},{"t":25,"v":2.6},{"t":30,"v":4.2},{"t":35,"v":5.8},{"t":40,"v":7.4},{"t":45,"v":9},{"t":50,"v":10.6},{"t":55,"v":12.3},{"t":60,"v":14},{"t":65,"v":15.6},{"t":67,"v":16.3},{"t":70,"v":17.3},{"t":75,"v":19},{"t":78,"v":20},{"t":80,"v":20.7},{"t":85,"v":22.4},{"t":90,"v":24},{"t":95,"v":25.7},{"t":99,"v":27},{"t":100,"v":27.4},{"t":104,"v":28.7},{"t":105,"v":29},{"t":105.2,"v":0}]
}
}
